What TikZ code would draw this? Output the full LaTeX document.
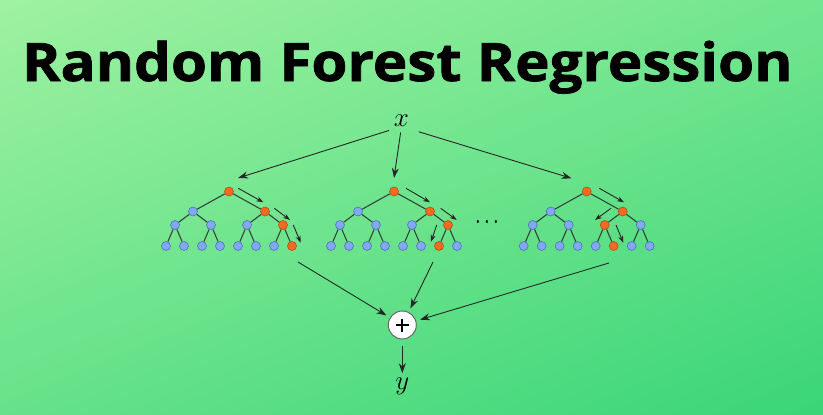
\RequirePackage{fix-cm}
\documentclass[tikz,border=0pt]{standalone}
\usepackage{fontspec}
\newfontfamily\titlefont[BoldFeatures={FakeBold=1.3}]{Open Sans}
\usetikzlibrary{arrows.meta,calc}
\definecolor{bgL}{HTML}{9FF2A1}
\definecolor{bgD}{HTML}{3AD578}
\definecolor{nblue}{HTML}{82A9F0}
\definecolor{nblueb}{HTML}{4C6FC4}
\definecolor{norange}{HTML}{F26B22}
\definecolor{norangeb}{HTML}{B84C12}
\definecolor{edgec}{HTML}{34443A}
\tikzset{
  bnode/.style={circle, fill=nblue, draw=nblueb, line width=0.6pt, minimum size=9pt, inner sep=0pt},
  onode/.style={bnode, fill=norange, draw=norangeb},
  tedge/.style={draw=edgec, line width=1.1pt},
  parrow/.style={draw=black!85, line width=0.9pt, -{Stealth[length=7pt,width=5pt]}},
  marrow/.style={draw=black!85, line width=0.9pt, -{Stealth[length=10pt,width=7pt]}},
  mathlbl/.style={inner sep=0pt, font=\fontsize{27}{30}\selectfont},
}
\newcommand\drawtree[4]{%
\begin{scope}[shift={(#2,#3)},
  t11/.style=bnode,t12/.style=bnode,
  t21/.style=bnode,t22/.style=bnode,t23/.style=bnode,t24/.style=bnode,
  t31/.style=bnode,t32/.style=bnode,t33/.style=bnode,t34/.style=bnode,
  t35/.style=bnode,t36/.style=bnode,t37/.style=bnode,t38/.style=bnode,#4]
  \node[onode] (#1-0) at (0,0) {};
  \node[t11] (#1-11) at (-36,20) {};
  \node[t12] (#1-12) at (36,20) {};
  \node[t21] (#1-21) at (-54,33.5) {};
  \node[t22] (#1-22) at (-18,33.5) {};
  \node[t23] (#1-23) at (18,33.5) {};
  \node[t24] (#1-24) at (54,33.5) {};
  \node[t31] (#1-31) at (-63,54.5) {};
  \node[t32] (#1-32) at (-45,54.5) {};
  \node[t33] (#1-33) at (-27,54.5) {};
  \node[t34] (#1-34) at (-9,54.5) {};
  \node[t35] (#1-35) at (9,54.5) {};
  \node[t36] (#1-36) at (27,54.5) {};
  \node[t37] (#1-37) at (45,54.5) {};
  \node[t38] (#1-38) at (63,54.5) {};
  \draw[tedge] (#1-0) -- (#1-11) (#1-0) -- (#1-12)
    (#1-11) -- (#1-21) (#1-11) -- (#1-22) (#1-12) -- (#1-23) (#1-12) -- (#1-24)
    (#1-21) -- (#1-31) (#1-21) -- (#1-32) (#1-22) -- (#1-33) (#1-22) -- (#1-34)
    (#1-23) -- (#1-35) (#1-23) -- (#1-36) (#1-24) -- (#1-37) (#1-24) -- (#1-38);
\end{scope}}
\begin{document}
\begin{tikzpicture}[x=1pt,y=-1pt]
\useasboundingbox (0,0) rectangle (823,415);
% background gradient
\begin{scope}
\clip (0,0) rectangle (823,415);
\foreach \i in {0,...,49}{
  \pgfmathsetmacro\pa{\i*13.862-0.6}
  \pgfmathsetmacro\pb{(\i+1)*13.862+0.6}
  \pgfmathtruncatemacro\pc{99-2*\i}
  \fill[bgL!\pc!bgD] ({\pa*0.3746+900*0.9272},{\pa*0.9272-900*0.3746})
    -- ({\pa*0.3746-900*0.9272},{\pa*0.9272+900*0.3746})
    -- ({\pb*0.3746-900*0.9272},{\pb*0.9272+900*0.3746})
    -- ({\pb*0.3746+900*0.9272},{\pb*0.9272-900*0.3746}) -- cycle;
}
\end{scope}
% title
\node[anchor=base, inner sep=0pt, font=\titlefont\bfseries\fontsize{53}{60}\selectfont] (title) at (407.3,81) {\scalebox{1.1}[1]{Random Forest Regression}};
% trees
\drawtree{ta}{229}{191.5}{t12/.style=onode,t24/.style=onode,t38/.style=onode}
\drawtree{tb}{394}{191.5}{t12/.style=onode,t24/.style=onode,t37/.style=onode}
\drawtree{tc}{586.7}{191.5}{t12/.style=onode,t23/.style=onode,t36/.style=onode}
\node[inner sep=0pt, font=\fontsize{30}{30}\selectfont] (dots) at (487.5,222.7) {\scalebox{0.68}[1]{$\cdots$}};
% decision path arrows
\coordinate (ta-a1) at (238.3,188.3); \coordinate (ta-b1) at (263.3,202.3);
\coordinate (ta-a2) at (274.3,208.3); \coordinate (ta-b2) at (290,220);
\coordinate (ta-a3) at (293.3,225);   \coordinate (ta-b3) at (300.7,242.7);
\coordinate (tb-a1) at (406,188.3);   \coordinate (tb-b1) at (430,202.3);
\coordinate (tb-a2) at (440.7,208.3); \coordinate (tb-b2) at (456.7,220);
\coordinate (tb-a3) at (436.7,225);   \coordinate (tb-b3) at (431,241.7);
\coordinate (tc-a1) at (599.3,188.3); \coordinate (tc-b1) at (624,202.3);
\coordinate (tc-a2) at (611,208.3);   \coordinate (tc-b2) at (595,220);
\coordinate (tc-a3) at (616,225);     \coordinate (tc-b3) at (623.3,242.7);
\foreach \t in {ta,tb,tc}{
  \foreach \k in {1,2,3}{ \draw[parrow] (\t-a\k) -- (\t-b\k); }
}
% input x
\node[mathlbl] (x) at (401.5,120.5) {$x$};
\coordinate (ta-in) at (238,178);
\coordinate (tb-in) at (394,178);
\coordinate (tc-in) at (571.5,178.3);
\draw[marrow, shorten <=13pt] (x.south) -- (ta-in);
\draw[marrow, shorten <=6pt] (x.south) -- (tb-in);
\draw[marrow, shorten <=18pt] (x.south) -- (tc-in);
% aggregation
\node[circle, fill=white, draw=black!60, line width=1pt, minimum size=28pt, inner sep=0pt] (plus) at (402.3,325) {};
\draw[line width=1.7pt] ($(plus)+(-6.5,0)$) -- ($(plus)+(6.5,0)$);
\draw[line width=1.7pt] ($(plus)+(0,-6.5)$) -- ($(plus)+(0,6.5)$);
\coordinate (ta-out) at (298,262);
\coordinate (tb-out) at (433,262);
\coordinate (tc-out) at (609,263);
\foreach \t in {ta,tb,tc}{ \draw[marrow, shorten >=4pt] (\t-out) -- (plus); }
% output y
\node[mathlbl, anchor=base] (y) at (402.3,389) {$y$};
\draw[marrow, shorten <=6pt, shorten >=4pt] (plus.south) -- (y.north);
\end{tikzpicture}
\end{document}
